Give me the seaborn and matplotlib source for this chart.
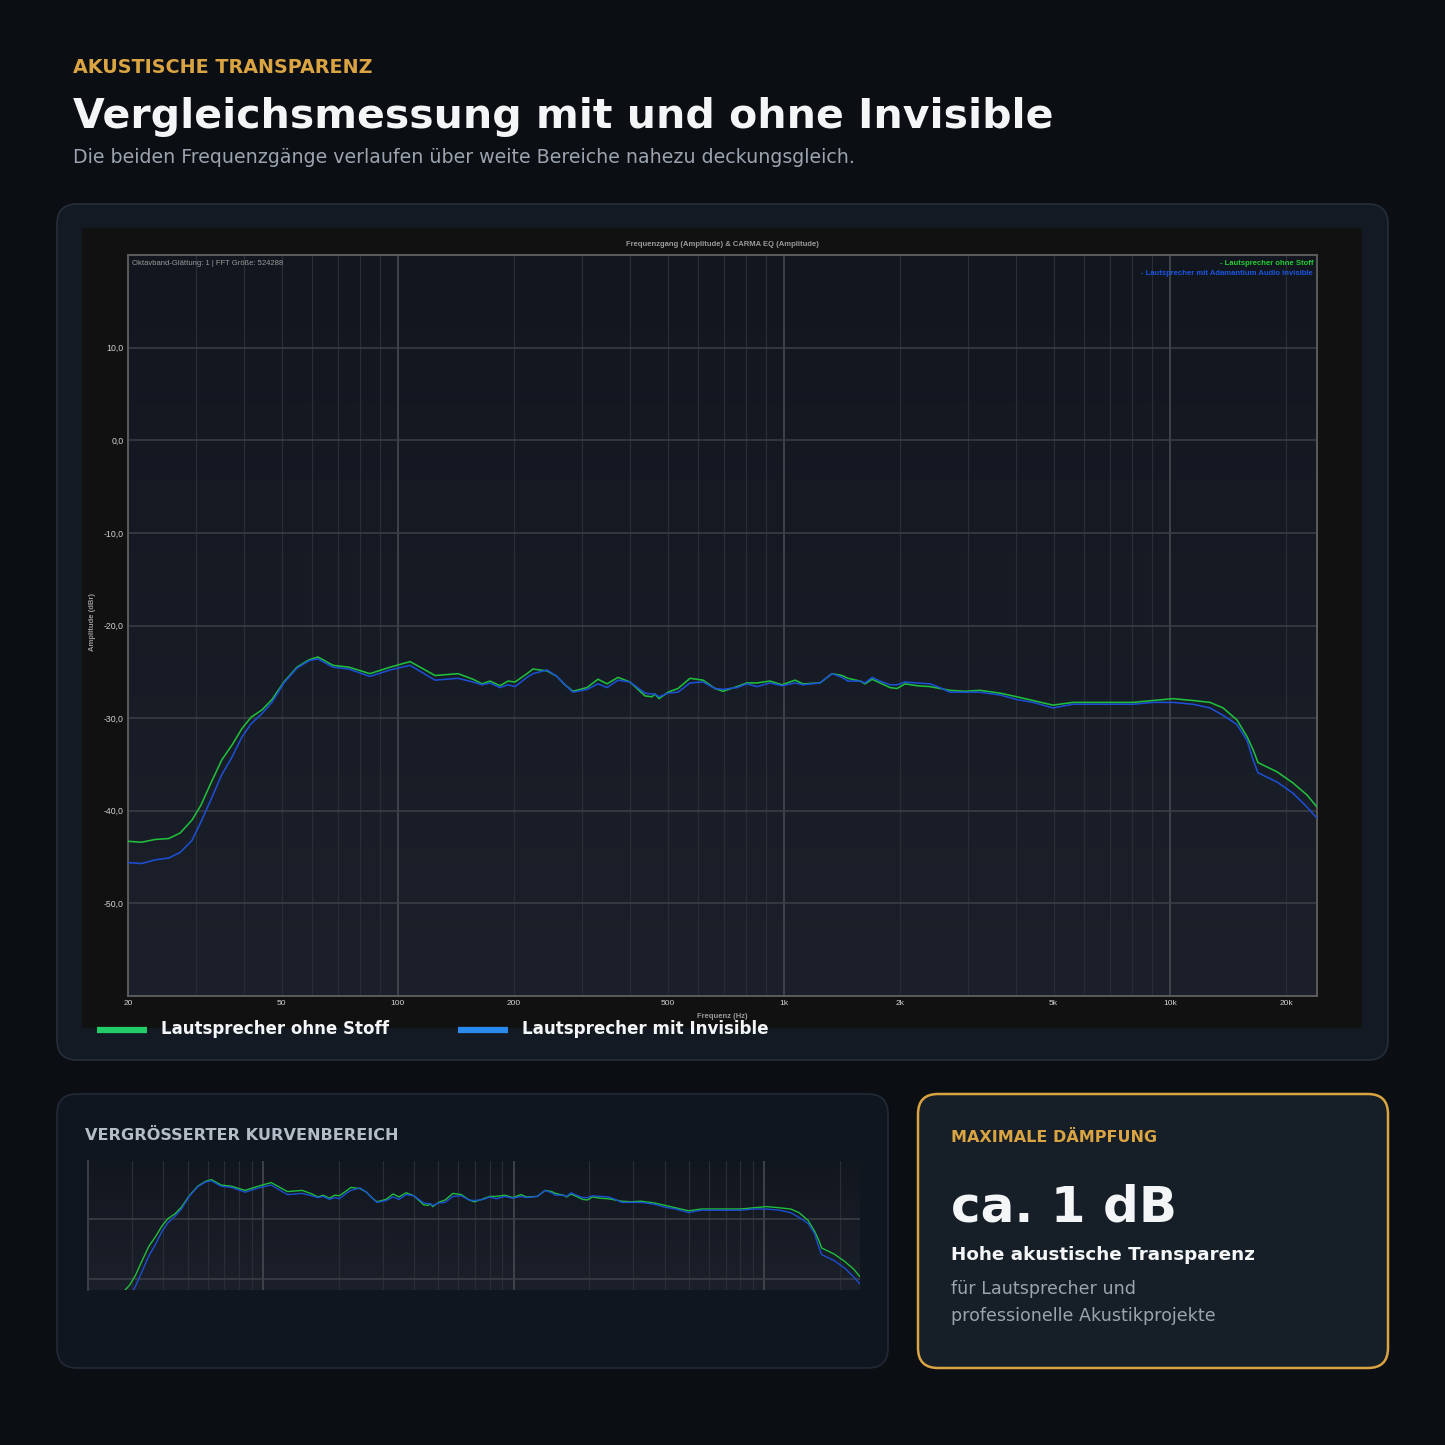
import numpy as np
import pandas as pd
import matplotlib
matplotlib.use("Agg")
import matplotlib.pyplot as plt
import seaborn as sns
from matplotlib.patches import FancyBboxPatch, Rectangle
from matplotlib.colors import LinearSegmentedColormap
from matplotlib.ticker import FixedLocator, NullFormatter

freq_hz = [20, 21.7, 23.5, 25.5, 27.3, 29.3, 30.9, 32.8, 35.0, 37.2, 39.5, 41.7,
           44.5, 47.2, 50.7, 54.8, 58.9, 62.1, 67.9, 74.7, 84.7, 95.5, 107.6,
           124.9, 143.2, 156.6, 165.3, 173.3, 183.9, 193.0, 201.2, 216.1, 224.0,
           243.5, 258.4, 271.0, 284.3, 309.2, 330.1, 348.3, 372.0, 399.5, 437.0,
           455.6, 463.8, 475.0, 501.2, 532.0, 571.6, 617.6, 663.4, 695.8, 756.4,
           802.8, 852.2, 921.0, 989.2, 1069, 1122, 1241, 1333, 1415, 1466, 1576,
           1623, 1693, 1775, 1884, 1965, 2060, 2213, 2392, 2539, 2695, 2947,
           3223, 3631, 4020, 4422, 4982, 5613, 6594, 8030, 9046, 10190, 11480,
           12710, 13740, 14930, 15850, 16430, 16920, 18960, 20850, 22670, 24060]

ohne_stoff_db = [-43.3, -43.4, -43.1, -43.0, -42.4, -41.0, -39.4, -37.0, -34.5, -32.9,
                 -31.1, -29.9, -29.1, -28.0, -26.1, -24.5, -23.7, -23.4, -24.3, -24.5,
                 -25.2, -24.5, -23.9, -25.4, -25.2, -25.8, -26.3, -26.0, -26.5, -26.0,
                 -26.1, -25.2, -24.7, -24.9, -25.5, -26.4, -27.1, -26.7, -25.8, -26.3,
                 -25.6, -26.1, -27.6, -27.7, -27.4, -27.9, -27.2, -26.8, -25.7, -25.9,
                 -26.8, -27.1, -26.6, -26.2, -26.2, -26.0, -26.4, -25.9, -26.3, -26.2,
                 -25.2, -25.4, -25.7, -26.0, -26.3, -25.8, -26.2, -26.7, -26.8, -26.3,
                 -26.5, -26.6, -26.8, -27.0, -27.1, -27.0, -27.3, -27.7, -28.1, -28.6,
                 -28.3, -28.3, -28.3, -28.1, -27.9, -28.1, -28.3, -28.9, -30.2, -32.0,
                 -33.4, -34.8, -35.8, -37.0, -38.3, -39.6]

mit_invisible_db = [-45.6, -45.7, -45.3, -45.1, -44.5, -43.2, -41.2, -38.8, -36.1, -34.2,
                    -32.0, -30.6, -29.5, -28.3, -26.2, -24.6, -23.8, -23.6, -24.5, -24.7,
                    -25.5, -24.8, -24.3, -25.9, -25.7, -26.1, -26.4, -26.2, -26.7, -26.4,
                    -26.6, -25.6, -25.2, -24.8, -25.5, -26.4, -27.2, -26.9, -26.3, -26.7,
                    -25.9, -26.1, -27.3, -27.4, -27.4, -27.7, -27.3, -27.2, -26.2, -26.1,
                    -26.8, -26.9, -26.7, -26.3, -26.6, -26.2, -26.5, -26.2, -26.4, -26.2,
                    -25.2, -25.6, -26.0, -26.0, -26.2, -25.6, -26.0, -26.4, -26.4, -26.1,
                    -26.2, -26.3, -26.7, -27.2, -27.2, -27.2, -27.5, -28.0, -28.3, -28.9,
                    -28.5, -28.5, -28.5, -28.3, -28.3, -28.5, -28.9, -29.7, -30.7, -32.4,
                    -34.5, -35.9, -36.9, -38.1, -39.6, -40.8]

x_ticks = [20, 50, 100, 200, 500, 1000, 2000, 5000, 10000, 20000]
x_tick_labels = ["20", "50", "100", "200", "500", "1k", "2k", "5k", "10k", "20k"]
y_ticks = [-50, -40, -30, -20, -10, 0, 10]
y_tick_labels = ["-50,0", "-40,0", "-30,0", "-20,0", "-10,0", "0,0", "10,0"]

OHNE = "Lautsprecher ohne Stoff"
MIT = "Lautsprecher mit Invisible"

df = pd.DataFrame({
    "freq": freq_hz * 2,
    "db": ohne_stoff_db + mit_invisible_db,
    "kurve": [OHNE] * len(freq_hz) + [MIT] * len(freq_hz),
})

sns.set_theme(style="dark")
plt.rcParams["font.family"] = ["DejaVu Sans"]

W = H = 1445
BG = "#0b0e13"
ORANGE = "#d9a441"
GREEN = "#1fbf3c"
BLUE = "#1c4fd2"


def rect(x0, y0, x1, y1):
    return [x0 / W, 1 - y1 / H, (x1 - x0) / W, (y1 - y0) / H]


def card(x0, y0, x1, y1, face, edge, lw=1.2, r=20, z=-3):
    p = FancyBboxPatch((x0 / W, 1 - y1 / H), (x1 - x0) / W, (y1 - y0) / H,
                       boxstyle=f"round,pad=0,rounding_size={r / W}",
                       transform=fig.transFigure, facecolor=face, edgecolor=edge,
                       linewidth=lw, zorder=z)
    fig.add_artist(p)


def text(x, y, s, **kw):
    fig.text(x / W, 1 - y / H, s, **kw)


def gradient_bg(ax, top, bottom):
    cmap = LinearSegmentedColormap.from_list("bg", [bottom, top])
    grad = np.linspace(0, 1, 256).reshape(-1, 1)
    ax.imshow(grad, cmap=cmap, aspect="auto", extent=[0, 1, 0, 1],
              transform=ax.transAxes, origin="lower", zorder=0)


def style_freq_axes(ax, ylim, lw_curve, show_labels):
    gradient_bg(ax, "#12161f", "#1c202a")
    sns.lineplot(data=df, x="freq", y="db", hue="kurve", hue_order=[OHNE, MIT],
                 palette={OHNE: GREEN, MIT: BLUE}, linewidth=lw_curve,
                 legend=False, errorbar=None, ax=ax, zorder=3)
    ax.set_xscale("log")
    ax.set_xlim(20, 24060)
    ax.set_ylim(*ylim)
    minor = [m * d for d in (10, 100, 1000, 10000) for m in range(2, 10)
             if 20 < m * d < 24060]
    for v in minor:
        ax.axvline(v, color="#292d35", lw=0.9, zorder=1)
    for v in (100, 1000, 10000):
        ax.axvline(v, color="#3e4249", lw=1.4, zorder=1)
    for v in y_ticks:
        ax.axhline(v, color="#3b3f46", lw=1.1, zorder=1)
    ax.xaxis.set_major_locator(FixedLocator(x_ticks))
    ax.xaxis.set_minor_locator(FixedLocator([]))
    ax.xaxis.set_minor_formatter(NullFormatter())
    ax.yaxis.set_major_locator(FixedLocator(y_ticks))
    ax.grid(False)
    ax.set_xlabel("")
    ax.set_ylabel("")
    for sp in ax.spines.values():
        sp.set_color("#5c5c5c")
        sp.set_linewidth(1.4)
    if show_labels:
        ax.set_xticklabels(x_tick_labels)
        ax.set_yticklabels(y_tick_labels)
        ax.tick_params(axis="x", length=0, colors="#d2d2d2", labelsize=6, pad=3)
        ax.tick_params(axis="y", length=0, colors="#d2d2d2", labelsize=6.3, pad=3)
        for lab in ax.get_xticklabels() + ax.get_yticklabels():
            lab.set_family("Liberation Sans")
    else:
        ax.set_xticklabels([])
        ax.set_yticklabels([])
        ax.tick_params(axis="x", length=0)
        ax.tick_params(axis="y", length=2, colors="#8a8f98", width=0.8)


fig = plt.figure(figsize=(14.45, 14.45), dpi=100, facecolor=BG)

# Kopfzeile
text(73, 73, "AKUSTISCHE TRANSPARENZ", color=ORANGE, fontsize=13.8, fontweight="bold")
text(73, 128, "Vergleichsmessung mit und ohne Invisible", color="#f4f5f7",
     fontsize=29.5, fontweight="bold")
text(73, 163, "Die beiden Frequenzgänge verlaufen über weite Bereiche nahezu deckungsgleich.",
     color="#9aa3ae", fontsize=13.7)

# Hauptkarte
card(57, 204, 1388, 1060, "#131a23", "#262e3a")
fig.add_artist(Rectangle((82 / W, 1 - 1028 / H), 1280 / W, 800 / H,
                         transform=fig.transFigure, facecolor="#111111",
                         edgecolor="none", zorder=-2))

ax = fig.add_axes(rect(128, 255, 1317, 996))
style_freq_axes(ax, (-60, 20), 1.15, True)

text(722, 246, "Frequenzgang (Amplitude) & CARMA EQ (Amplitude)", color="#9a9a9a",
     fontsize=5.5, fontweight="bold", family="Liberation Sans", ha="center")
text(132, 265, "Oktavband-Glättung: 1 | FFT Größe: 524288", color="#9a9a9a",
     fontsize=5.5, family="Liberation Sans")
text(1313, 265, "- Lautsprecher ohne Stoff", color="#22cc33", fontsize=5.5,
     fontweight="bold", family="Liberation Sans", ha="right")
text(1313, 275, "- Lautsprecher mit Adamantium Audio Invisible", color="#1a55e0",
     fontsize=5.5, fontweight="bold", family="Liberation Sans", ha="right")
text(93, 622, "Amplitude (dBr)", color="#9a9a9a", fontsize=5.5, fontweight="bold",
     family="Liberation Sans", rotation=90, ha="center", va="center")
text(722, 1018, "Frequenz (Hz)", color="#9a9a9a", fontsize=5.5, fontweight="bold",
     family="Liberation Sans", ha="center")

# Legende unter dem Diagramm
fig.add_artist(plt.Line2D([97 / W, 147 / W], [1 - 1030 / H] * 2, color="#22cc66",
                          lw=4.5, solid_capstyle="butt", transform=fig.transFigure))
text(161, 1034, OHNE, color="#f4f5f7", fontsize=12, fontweight="bold")
fig.add_artist(plt.Line2D([458 / W, 508 / W], [1 - 1030 / H] * 2, color="#2a8af0",
                          lw=4.5, solid_capstyle="butt", transform=fig.transFigure))
text(522, 1034, MIT, color="#f4f5f7", fontsize=12.1, fontweight="bold")

# Karte unten links: vergrößerter Kurvenbereich
card(57, 1094, 888, 1368, "#0f1620", "#222a36")
text(85, 1140, "VERGRÖSSERTER KURVENBEREICH", color="#b4bcc8", fontsize=11.6,
     fontweight="bold")
ax2 = fig.add_axes(rect(88, 1161, 860, 1290))
style_freq_axes(ax2, (-41.8, -20.3), 1.0, False)
ax2.spines["top"].set_visible(False)
ax2.spines["right"].set_visible(False)
ax2.spines["bottom"].set_visible(False)
ax2.spines["left"].set_color("#3a3f48")

# Karte unten rechts
card(918, 1094, 1388, 1368, "#161e28", ORANGE, lw=1.8)
text(951, 1142, "MAXIMALE DÄMPFUNG", color=ORANGE, fontsize=11.5, fontweight="bold")
text(951, 1222, "ca. 1 dB", color="#f4f5f7", fontsize=36, fontweight="bold")
text(951, 1260, "Hohe akustische Transparenz", color="#f4f5f7", fontsize=13.2,
     fontweight="bold")
text(951, 1294, "für Lautsprecher und", color="#9aa3ae", fontsize=12.6)
text(951, 1321, "professionelle Akustikprojekte", color="#9aa3ae", fontsize=12.6)

fig.savefig("out.png", dpi=100, facecolor=BG)
